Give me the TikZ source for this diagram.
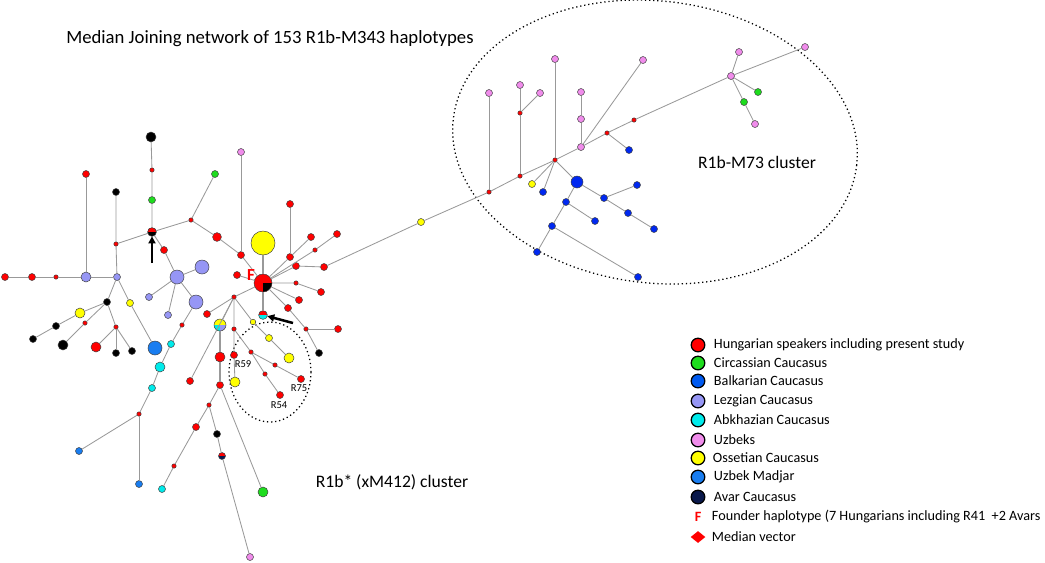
\documentclass[tikz,border=0pt]{standalone}
\usepackage{fontspec}
\setmainfont{Carlito}
\usetikzlibrary{arrows.meta,shapes.geometric}
\definecolor{hun}{RGB}{255,0,0}
\definecolor{cir}{RGB}{30,220,30}
\definecolor{bal}{RGB}{0,40,240}
\definecolor{lez}{RGB}{150,150,245}
\definecolor{abk}{RGB}{0,235,235}
\definecolor{uzb}{RGB}{240,140,235}
\definecolor{oss}{RGB}{255,255,0}
\definecolor{mad}{RGB}{25,125,240}
\definecolor{ava}{RGB}{10,25,75}
\definecolor{lbal}{RGB}{0,90,240}

\begin{document}
\begin{tikzpicture}[x=0.025cm,y=-0.025cm,
	edge/.style={draw=black!40,line width=0.6pt},
	hap/.style={circle,draw=black!75,line width=0.35pt,inner sep=0,outer sep=0,minimum size=0.175cm},
	med/.style={hap,fill=hun,minimum size=0.11cm},
	md/.style={minimum size=0.25cm},
	lg/.style={minimum size=0.35cm},
	half/.style 2 args={fill=#2,path picture={\fill[#1] (path picture bounding box.north west) rectangle (path picture bounding box.east);}},
	key/.style={circle,draw=black,line width=0.9pt,inner sep=0,minimum size=0.34cm},
	lab/.style={anchor=west,font=\fontsize{10.1}{12}\selectfont},
	tag/.style={font=\fontsize{7.5}{9}\selectfont},
	marker/.style={-{Triangle[length=5pt,width=5pt]},line width=1.8pt}]
	\useasboundingbox (0,0) rectangle (1045,562);

	\node[font=\fontsize{13.3}{16}\selectfont] (title) at (270,39) {Median Joining network of 153 R1b-M343 haplotypes};
	\node[font=\fontsize{12.5}{14}\selectfont] (m73lab) at (757,162) {R1b-M73 cluster};
	\node[font=\fontsize{12.5}{14}\selectfont] (starlab) at (392,482) {R1b* (xM412) cluster};

	\draw[dotted,line width=0.9pt] (655,142) ellipse [x radius=203,y radius=141,rotate=-6.5];
	\draw[dotted,line width=0.9pt] (270,372) ellipse [x radius=41,y radius=50];

	\node[hap,md,fill=black] (b1) at (151,137) {};
	\node[med] (m1) at (152,170) {};
	\node[hap,fill=cir] (g1) at (152,200) {};
	\node[hap,minimum size=0.22cm,half={hun}{black}] (rb) at (152,232) {};
	\node[hap,fill=hun] (r1) at (86,174) {};
	\node[hap,fill=black] (k1) at (116,192) {};
	\node[med] (m2) at (116,244) {};
	\node[hap,md,fill=lez] (l1) at (86,277) {};
	\node[hap,fill=lez] (l2) at (117,277) {};
	\node[hap,fill=hun] (r2) at (5,277) {};
	\node[hap,fill=hun] (r3) at (32,277) {};
	\node[med] (m3) at (56,277) {};
	\node[med] (m4) at (191,220) {};
	\node[hap,fill=cir] (g2) at (215,174) {};
	\node[hap,minimum size=0.22cm,fill=hun] (r4) at (217,237) {};
	\node[hap,fill=uzb] (p1) at (241,152) {};
	\node[hap,fill=hun] (r5) at (241,255) {};
	\node[hap,fill=hun] (r6) at (164,250) {};
	\node[hap,lg,fill=lez] (l3) at (177,277) {};
	\node[hap,lg,fill=lez] (l4) at (202,267) {};
	\node[hap,fill=lez] (l5) at (149,297) {};
	\node[hap,fill=lez] (l6) at (168,315) {};
	\node[hap,lg,fill=lez] (l7) at (196,302) {};
	\node[med] (m5) at (182,325) {};
	\node[hap,fill=abk] (c1) at (171,344) {};
	\node[hap,md,fill=abk] (c2) at (160,367) {};
	\node[hap,fill=abk] (c3) at (152,388) {};
	\node[med] (m6) at (139,414) {};
	\node[hap,fill=mad] (u1) at (79,451) {};
	\node[hap,fill=mad] (u2) at (139,484) {};
	\node[hap,fill=black] (k2) at (107,302) {};
	\node[hap,fill=oss] (y1) at (130,303) {};
	\node[hap,lg,fill=mad] (u3) at (155,348) {};
	\node[hap,md,fill=oss] (y2) at (80,313) {};
	\node[hap,fill=black] (k3) at (56,326) {};
	\node[hap,fill=black] (k4) at (33,339) {};
	\node[med] (m7) at (85,323) {};
	\node[hap,md,fill=black] (k5) at (63,345) {};
	\node[med] (m8) at (116,327) {};
	\node[hap,md,fill=hun] (r7) at (96,347) {};
	\node[hap,fill=black] (k6) at (116,353) {};
	\node[hap,fill=black] (k7) at (132,351) {};

	\node[hap,minimum size=0.45cm,fill=hun,path picture={\fill[black] (path picture bounding box.center) rectangle (path picture bounding box.south east);}] (F) at (263,283) {};
	\node[hap,minimum size=0.6cm,fill=oss] (y3) at (263,243) {};
	\node[hap,fill=hun] (r8) at (237,275) {};
	\node[med] (m9) at (234,297) {};
	\node[hap,minimum size=0.22cm,half={hun}{abk}] (rc) at (263,315) {};
	\node[hap,fill=hun] (r9) at (290,257) {};
	\node[hap,fill=hun] (r10) at (290,204) {};
	\node[hap,fill=hun] (r11) at (311,237) {};
	\node[med] (m10) at (315,250) {};
	\node[hap,fill=hun] (r12) at (337,234) {};
	\node[hap,fill=hun] (r13) at (296,266) {};
	\node[hap,fill=hun] (r14) at (324,267) {};
	\node[med] (m11) at (296,283) {};
	\node[hap,fill=hun] (r15) at (321,292) {};
	\node[hap,fill=hun] (r16) at (299,300) {};
	\node[hap,fill=hun] (r17) at (288,308) {};
	\node[med] (m12) at (306,329) {};
	\node[hap,fill=hun] (r18) at (338,329) {};
	\node[hap,fill=black] (k8) at (319,353) {};
	\node[hap,fill=hun] (r19) at (207,314) {};
	\node[hap,minimum size=0.3cm,fill=oss,path picture={
		\fill[abk] (path picture bounding box.west) rectangle (path picture bounding box.south);
		\fill[lez] (path picture bounding box.center) rectangle (path picture bounding box.south east);}] (t1) at (220,325) {};
	\node[hap,minimum size=0.14cm,fill=oss] (y4) at (253,322) {};
	\node[med] (m13) at (234,329) {};
	\node[hap,fill=hun] (r20) at (190,381) {};
	\node[hap,md,fill=hun] (r21) at (220,357) {};
	\node[hap,fill=hun] (r22) at (220,385) {};
	\node[med] (m14) at (209,405) {};
	\node[hap,fill=hun] (r23) at (196,427) {};
	\node[med] (m15) at (174,466) {};
	\node[hap,fill=abk] (c4) at (162,489) {};
	\node[hap,fill=black] (k9) at (217,434) {};
	\node[hap,half={hun}{ava}] (n1) at (222,456) {};
	\node[hap,fill=uzb] (p2) at (250,557) {};
	\node[hap,md,fill=cir] (g3) at (263,492) {};
	\node[hap,fill=hun] (r24) at (234,355) {};
	\node[hap,md,fill=oss] (y5) at (235,382) {};
	\node[med] (m16) at (251,352) {};
	\node[med] (m17) at (275,365) {};
	\node[hap,fill=hun] (r25) at (301,379) {};
	\node[med] (m18) at (265,374) {};
	\node[hap,fill=hun] (r26) at (280,395) {};
	\node[hap,fill=oss] (y6) at (269,338) {};
	\node[hap,md,fill=oss] (y7) at (289,358) {};

	\node[hap,fill=oss] (y8) at (421,222) {};
	\node[med] (m20) at (489,192) {};
	\node[hap,fill=uzb] (p3) at (489,93) {};
	\node[med] (m21) at (520,176) {};
	\node[med] (m22) at (520,113) {};
	\node[hap,fill=uzb] (p4) at (520,85) {};
	\node[hap,fill=uzb] (p5) at (540,93) {};
	\node[med] (m23) at (555,160) {};
	\node[hap,fill=uzb] (p6) at (555,59) {};
	\node[hap,fill=oss] (y9) at (532,184) {};
	\node[hap,fill=bal] (e1) at (543,192) {};
	\node[hap,minimum size=0.3cm,fill=bal] (E) at (577,182) {};
	\node[hap,fill=uzb] (p7) at (581,147) {};
	\node[hap,fill=uzb] (p8) at (581,119) {};
	\node[hap,fill=uzb] (p9) at (581,92) {};
	\node[hap,fill=uzb] (p10) at (643,60) {};
	\node[med] (m24) at (607,133) {};
	\node[hap,fill=bal] (e2) at (629,150) {};
	\node[med] (m25) at (634,120) {};
	\node[hap,fill=uzb] (p11) at (731,76) {};
	\node[hap,fill=uzb] (p12) at (739,52) {};
	\node[hap,fill=uzb] (p13) at (805,47) {};
	\node[hap,fill=cir] (g4) at (758,92) {};
	\node[hap,fill=cir] (g5) at (744,102) {};
	\node[hap,fill=uzb] (p14) at (755,124) {};
	\node[hap,fill=bal] (e3) at (566,202) {};
	\node[hap,fill=bal] (e4) at (552,226) {};
	\node[hap,fill=bal] (e5) at (537,252) {};
	\node[hap,fill=bal] (e6) at (638,277) {};
	\node[hap,fill=bal] (e7) at (595,221) {};
	\node[hap,fill=bal] (e8) at (604,198) {};
	\node[hap,fill=bal] (e9) at (637,185) {};
	\node[hap,fill=bal] (e10) at (628,213) {};
	\node[hap,fill=bal] (e11) at (654,229) {};

	\draw[edge] (b1) -- (m1) -- (g1) -- (rb);
	\draw[edge] (rb) -- (m2) -- (k1);
	\draw[edge] (m2) -- (l2);
	\draw[edge] (rb) -- (m4) -- (g2);
	\draw[edge] (m4) -- (r4) -- (r5) -- (F);
	\draw[edge] (r5) -- (p1);
	\draw[edge] (rb) -- (r6) -- (l3);
	\draw[edge] (l3) -- (l4);
	\draw[edge] (l3) -- (l5);
	\draw[edge] (l3) -- (l6);
	\draw[edge] (l3) -- (l7) -- (m5) -- (c1) -- (c2) -- (c3) -- (m6) -- (u1);
	\draw[edge] (m6) -- (u2);
	\draw[edge] (r2) -- (r3) -- (m3) -- (l1) -- (l2);
	\draw[edge] (l1) -- (r1);
	\draw[edge] (l2) -- (k2);
	\draw[edge] (l2) -- (y1) -- (u3);
	\draw[edge] (k2) -- (y2) -- (k3) -- (k4);
	\draw[edge] (k2) -- (m7) -- (k5);
	\draw[edge] (k2) -- (m8) -- (r7);
	\draw[edge] (m8) -- (k6);
	\draw[edge] (m8) -- (k7);

	\draw[edge,line width=1.2pt] (F) -- (y3);
	\draw[edge,line width=1.2pt] (F) -- (rc);
	\draw[edge] (F) -- (r8);
	\draw[edge] (F) -- (m9);
	\draw[edge] (F) -- (r9) -- (r11);
	\draw[edge] (r9) -- (r10);
	\draw[edge] (F) -- (m10) -- (r12);
	\draw[edge] (F) -- (r13) -- (r14) -- (y8) -- (m20);
	\draw[edge] (F) -- (m11) -- (r15);
	\draw[edge] (F) -- (r16);
	\draw[edge] (F) -- (r17) -- (m12) -- (k8);
	\draw[edge] (m12) -- (r18);
	\draw[edge] (m9) -- (r19);
	\draw[edge] (m9) -- (t1);
	\draw[edge] (m9) -- (r20);
	\draw[edge] (m9) -- (m13) -- (r24) -- (y5);
	\draw[edge] (m9) -- (y4) -- (y6) -- (y7);
	\draw[edge,line width=1.2pt] (t1) -- (r21) -- (r22);
	\draw[edge] (r22) -- (m14) -- (r23) -- (m15) -- (c4);
	\draw[edge] (m14) -- (k9) -- (n1) -- (p2);
	\draw[edge] (r22) -- (g3);
	\draw[edge] (m13) -- (m16) -- (m17) -- (r25);
	\draw[edge] (m16) -- (m18) -- (r26);

	\draw[edge] (m20) -- (m21) -- (m23) -- (p7) -- (m24) -- (m25) -- (p11) -- (p13);
	\draw[edge] (m20) -- (p3);
	\draw[edge] (m21) -- (m22) -- (p4);
	\draw[edge] (m22) -- (p5);
	\draw[edge] (m23) -- (p6);
	\draw[edge] (m23) -- (y9);
	\draw[edge] (m23) -- (e1);
	\draw[edge] (m23) -- (E);
	\draw[edge] (p7) -- (p8) -- (p9);
	\draw[edge] (p7) -- (p10);
	\draw[edge] (m24) -- (e2);
	\draw[edge] (p11) -- (p12);
	\draw[edge] (p11) -- (g4);
	\draw[edge] (p11) -- (g5) -- (p14);
	\draw[edge] (E) -- (e3) -- (e4) -- (e5);
	\draw[edge] (e4) -- (e6);
	\draw[edge] (e3) -- (e7);
	\draw[edge] (E) -- (e8) -- (e9);
	\draw[edge] (e8) -- (e10) -- (e11);

	\node[text=hun,font=\fontsize{12}{14}\selectfont\bfseries] (flab) at (251,275) {F};
	\node[tag] (t59) at (243,364) {R59};
	\node[tag] (t75) at (299,388) {R75};
	\node[tag] (t54) at (279,405) {R54};
	\coordinate (a1) at (152,263);
	\coordinate (a2) at (293,323);
	\draw[marker] (a1) -- (rb);
	\draw[marker] (a2) -- (rc);

	\node[key,fill=hun] (k01) at (698,345) {};
	\node[lab] (t01) at (709,345) {Hungarian speakers including present study};
	\node[key,fill=cir] (k02) at (698,363) {};
	\node[lab] (t02) at (709,363) {Circassian Caucasus};
	\node[key,fill=lbal] (k03) at (698,381) {};
	\node[lab] (t03) at (709,381) {Balkarian Caucasus};
	\node[key,fill=lez] (k04) at (698,401) {};
	\node[lab] (t04) at (709,401) {Lezgian Caucasus};
	\node[key,fill=abk] (k05) at (698,420) {};
	\node[lab] (t05) at (709,420) {Abkhazian Caucasus};
	\node[key,fill=uzb] (k06) at (698,440) {};
	\node[lab] (t06) at (709,440) {Uzbeks};
	\node[key,fill=oss] (k07) at (698,458) {};
	\node[lab] (t07) at (708,458) {Ossetian Caucasus};
	\node[key,fill=mad] (k08) at (698,477) {};
	\node[lab] (t08) at (709,477) {Uzbek Madjar};
	\node[key,fill=ava] (k09) at (698,497) {};
	\node[lab] (t09) at (709,497) {Avar Caucasus};
	\node[text=hun,font=\fontsize{10.1}{12}\selectfont\bfseries] (k10) at (698,517) {F};
	\node[lab] (t10) at (707,517) {Founder haplotype (7 Hungarians including R41\ \ +2 Avars};
	\node[diamond,fill=hun,inner sep=0,minimum width=0.37cm,minimum height=0.3cm] (k11) at (698,537) {};
	\node[lab] (t11) at (707,537) {Median vector};
\end{tikzpicture}
\end{document}
